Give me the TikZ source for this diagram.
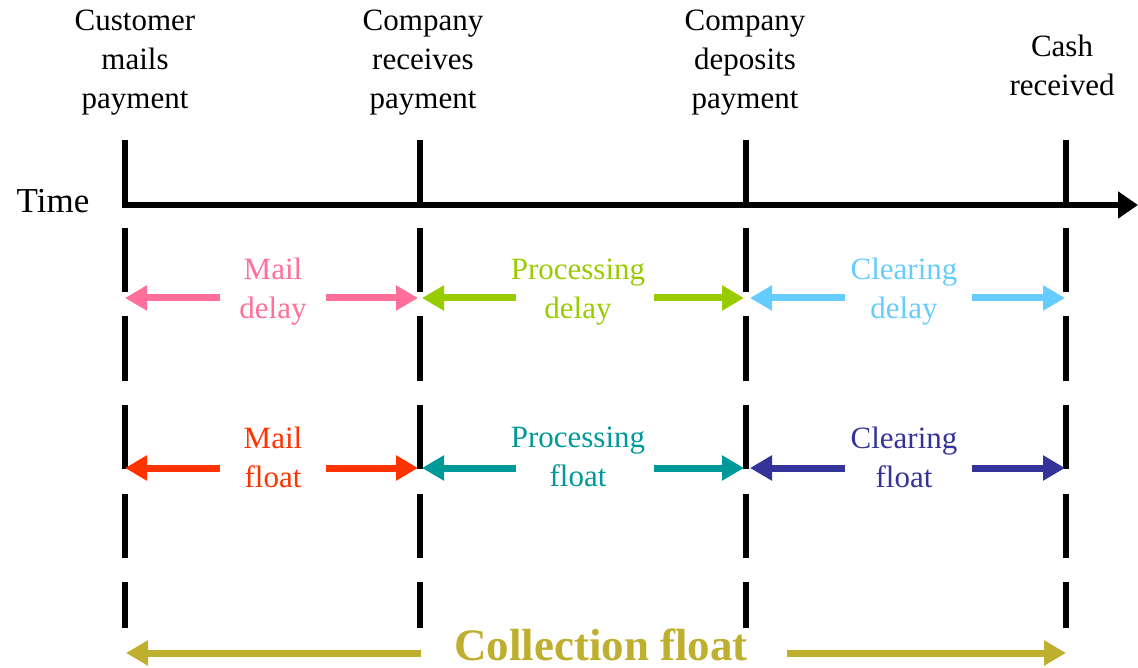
\documentclass[tikz,border=0pt]{standalone}
\usepackage{fontspec}
\setmainfont{Liberation Serif}
\usetikzlibrary{arrows.meta}
\definecolor{cmaild}{HTML}{FF6F9A}
\definecolor{cprocd}{HTML}{99CC00}
\definecolor{ccleard}{HTML}{66CCFF}
\definecolor{cmailf}{HTML}{FF3300}
\definecolor{cprocf}{HTML}{009999}
\definecolor{cclearf}{HTML}{333399}
\definecolor{ccoll}{HTML}{BFAF2F}
\tikzset{
  lbl/.style={font=\fontsize{31}{39}\selectfont, align=center, inner sep=0pt},
  vsolid/.style={line width=6pt},
  vdash/.style={line width=6pt, dash pattern=on 64pt off 24.5pt},
  spanarrow/.style={line width=7pt, -{Triangle[length=22pt,width=24pt]}},
  axisarrow/.style={line width=6pt, -{Triangle[length=20pt,width=26pt]}},
  colltext/.style={inner sep=0pt, text=ccoll, font=\fontsize{45}{50}\selectfont\bfseries, anchor=base},
}
\begin{document}
\begin{tikzpicture}[x=1pt,y=-1pt]
\useasboundingbox (0,0) rectangle (1138,668);
% event labels
\node[lbl] (e1) at (135,63) {Customer\\mails\\payment};
\node[lbl] (e2) at (423,63) {Company\\receives\\payment};
\node[lbl] (e3) at (745,63) {Company\\deposits\\payment};
\node[lbl] (e4) at (1062,65) {Cash\\received};
\node[lbl, font=\fontsize{35}{40}\selectfont] (time) at (53,201) {Time};
% timeline coordinates
\foreach \n/\x in {1/125,2/420,3/746,4/1066}{
  \coordinate (top\n) at (\x,140);
  \coordinate (ax\n) at (\x,208);
  \coordinate (ds\n) at (\x,228);
  \coordinate (de\n) at (\x,628);
}
\coordinate (axs) at (122,205);
\coordinate (axe) at (1138,205);
\foreach \n in {1,2,3,4}{
  \draw[vsolid] (top\n) -- (ax\n);
  \draw[vdash] (ds\n) -- (de\n);
}
\draw[axisarrow] (axs) -- (axe);
% row 1: delays
\node[lbl, text=cmaild] (md) at (273,292) {Mail\\delay};
\node[lbl, text=cprocd] (pd) at (578,292) {Processing\\delay};
\node[lbl, text=ccleard] (cd) at (904,292) {Clearing\\delay};
\coordinate (md1) at (220,298); \coordinate (md0) at (125,298);
\coordinate (md2) at (326,298); \coordinate (md3) at (418,298);
\coordinate (pd1) at (516,298); \coordinate (pd0) at (422,298);
\coordinate (pd2) at (654,298); \coordinate (pd3) at (744,298);
\coordinate (cd1) at (845,298); \coordinate (cd0) at (750,298);
\coordinate (cd2) at (972,298); \coordinate (cd3) at (1065,298);
\draw[spanarrow, cmaild] (md1) -- (md0);
\draw[spanarrow, cmaild] (md2) -- (md3);
\draw[spanarrow, cprocd] (pd1) -- (pd0);
\draw[spanarrow, cprocd] (pd2) -- (pd3);
\draw[spanarrow, ccleard] (cd1) -- (cd0);
\draw[spanarrow, ccleard] (cd2) -- (cd3);
% row 2: floats
\node[lbl, text=cmailf] (mf) at (273,457) {Mail\\float};
\node[lbl, text=cprocf] (pf) at (578,457) {Processing\\float};
\node[lbl, text=cclearf] (cf) at (904,457) {Clearing\\float};
\coordinate (mf1) at (220,468); \coordinate (mf0) at (125,468);
\coordinate (mf2) at (326,468); \coordinate (mf3) at (418,468);
\coordinate (pf1) at (516,468); \coordinate (pf0) at (422,468);
\coordinate (pf2) at (654,468); \coordinate (pf3) at (744,468);
\coordinate (cf1) at (845,468); \coordinate (cf0) at (750,468);
\coordinate (cf2) at (972,468); \coordinate (cf3) at (1065,468);
\draw[spanarrow, cmailf] (mf1) -- (mf0);
\draw[spanarrow, cmailf] (mf2) -- (mf3);
\draw[spanarrow, cprocf] (pf1) -- (pf0);
\draw[spanarrow, cprocf] (pf2) -- (pf3);
\draw[spanarrow, cclearf] (cf1) -- (cf0);
\draw[spanarrow, cclearf] (cf2) -- (cf3);
% collection float
\node[colltext] (coll) at (601,660) {Collection float};
\coordinate (cl1) at (421,653); \coordinate (cl0) at (126,653);
\coordinate (cl2) at (787,653); \coordinate (cl3) at (1066,653);
\draw[spanarrow, ccoll] (cl1) -- (cl0);
\draw[spanarrow, ccoll] (cl2) -- (cl3);
\end{tikzpicture}
\end{document}
